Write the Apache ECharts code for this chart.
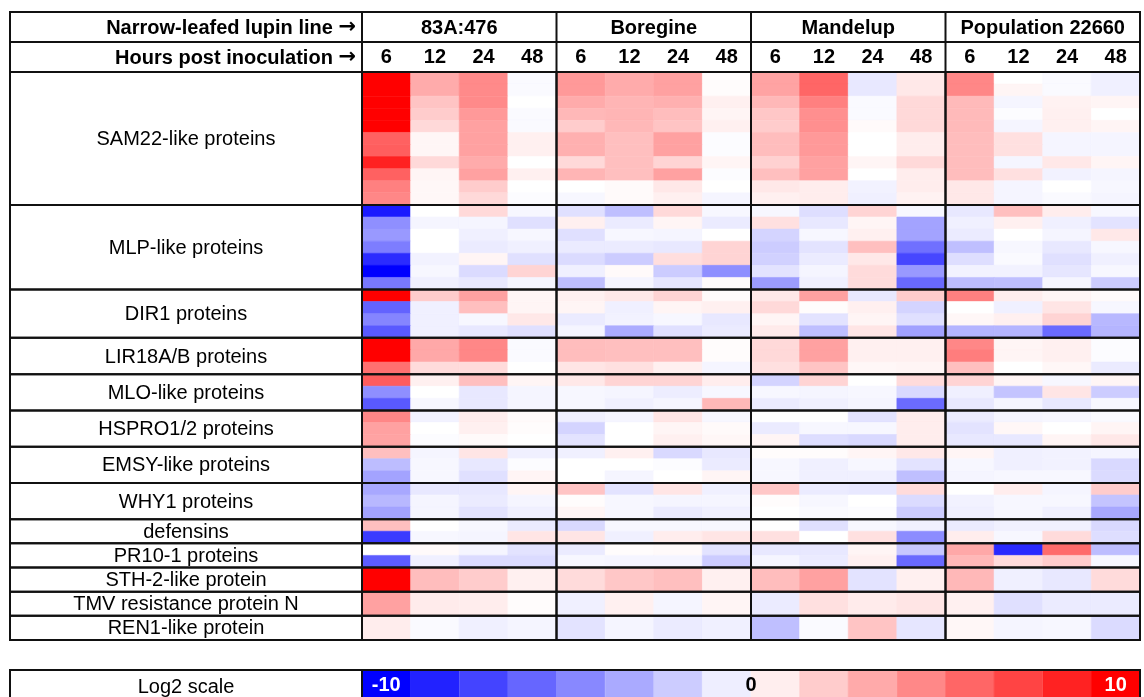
<!DOCTYPE html>
<html>
<head>
<meta charset="utf-8">
<script src="https://cdn.jsdelivr.net/npm/echarts@6/dist/echarts.min.js"></script>
<style>
  html, body { margin: 0; padding: 0; background: #fff; }
  #chart { width: 1144px; height: 697px; }
</style>
</head>
<body>
<div id="chart"></div>
<script>
const lines = ['83A:476', 'Boregine', 'Mandelup', 'Population 22660'];
const hours = ['6', '12', '24', '48'];
const geneGroups = [
  'SAM22-like proteins', 'MLP-like proteins', 'DIR1 proteins', 'LIR18A/B proteins',
  'MLO-like proteins', 'HSPRO1/2 proteins', 'EMSY-like proteins', 'WHY1 proteins',
  'defensins', 'PR10-1 proteins', 'STH-2-like protein', 'TMV resistance protein N', 'REN1-like protein'
];
// table rows taken by each group, and genes in it
const groupSlots = [11, 7, 4, 3, 3, 3, 3, 3, 2, 2, 2, 2, 2];
const groupGenes = [11, 7, 4, 3, 3, 3, 3, 3, 2, 2, 1, 1, 1];

// log2 fold change, one row per gene: [6, 12, 24, 48] hpi
const line83A = [
  [10, 3.3, 4.6, -0.2], [10, 3.3, 4.6, -0.2], [10, 2.3, 4.6, 0], [10, 2.0, 4.0, -0.2],
  [10, 1.5, 3.7, -0.2], [6.2, 0.35, 3.7, 0.6], [6.3, 0.35, 3.7, 0.6], [8.7, 1.5, 3.3, 0],
  [6.2, 0.4, 3.7, 0.6], [5, 0.3, 2, 0], [4.7, 0.3, 1.5, -0.1],
  [-9, 0, 1.5, -0.3], [-4.4, -0.4, -0.4, -1.2], [-4.0, 0, -0.6, -0.3], [-5.1, 0, -0.8, -0.6],
  [-8.3, -0.5, 0.4, -1.2], [-10, -0.3, -1.4, 1.7], [-5.3, -0.6, -0.9, -0.4],
  [10, 2, 3.7, 0.4], [-6.1, -0.6, 2.5, 0.4], [-4.8, -0.6, -0.3, 0.9], [-6.5, -0.6, -0.9, -1.2],
  [10, 3.4, 4.7, -0.2], [10, 3.4, 4.7, -0.2], [5.6, 1.4, 1.4, 0],
  [6.4, 0.6, 2.5, 0.4], [-4.4, 0, -0.9, -0.4], [-6.5, -0.3, -0.9, -0.4],
  [4.7, -0.5, 0.7, 0.2], [3.7, 0, 0.6, 0.1], [3.6, -0.1, 0.2, 0],
  [2.5, -0.4, 1, -0.6], [-2.6, -0.3, -0.9, -0.1], [-3.6, -0.3, -1.2, 0.4],
  [-3.4, -0.9, -0.9, 0.4], [-2.8, -0.4, -0.8, -0.4], [-3.6, -0.4, -1.1, -0.6],
  [2.5, 0, -0.3, -0.8], [-7.7, -0.3, -0.4, 1],
  [0, 0.2, -0.4, -1.1], [-6.4, -0.6, -1.4, -1.4],
  [10, 2.6, 2, 0.6],
  [3.7, 0.8, 0.7, 0.1],
  [0.7, -0.2, -0.6, -0.4]
];
const boregine = [
  [4.0, 3.3, 3.7, 0.1], [4.0, 3.3, 3.7, 0.1], [3.3, 2.9, 3.1, 0.6], [2.8, 2.9, 2.6, 0.4],
  [2.0, 2.8, 2.3, 0.6], [3.1, 2.5, 3.7, -0.1], [3.1, 2.5, 3.7, -0.1], [1.5, 2.5, 1.7, 0.4],
  [2.9, 2.5, 3.7, -0.1], [0, 0.2, 0.9, 0], [-0.3, 0.2, 0.6, -0.4],
  [-1.2, -2.5, 1.5, -0.3], [0.6, -0.8, 0.4, -0.8], [-1.2, -0.3, -0.4, 0], [-0.8, -0.8, -0.9, 1.7],
  [-1.4, -2, 1.3, 1.7], [-0.6, 0.2, -2, -4.4], [-2.5, -0.4, -1, 0.2],
  [0.6, 0.9, 1.7, 0.2], [0.4, -0.6, 0.4, 0.6], [-0.8, -0.5, -0.3, -0.9], [-0.4, -3.3, -1.2, -0.8],
  [2.6, 2.5, 2.5, 0.1], [2.6, 2.5, 2.5, 0.1], [1, 1.2, 0.6, -0.4],
  [0.9, 1.7, 1.7, 0.7], [-0.3, -0.4, -0.7, -0.3], [-0.3, -0.6, -0.4, 2.8],
  [-0.6, -0.4, 1, -0.3], [-1.7, 0, 0.4, 0.2], [-1.1, 0, 0.6, 0.3],
  [-0.6, 0.6, -1.5, -0.9], [0, 0, -0.1, -0.8], [0, -0.4, 0, 0.4],
  [2.3, -1.1, 1, -0.6], [0.1, -0.3, -0.4, -0.4], [0.4, -0.3, -0.8, -0.6],
  [-1.5, -0.3, -0.3, -0.3], [1, -0.6, 0.7, 1],
  [-0.8, 0.1, 0.2, -1.1], [-0.3, -0.4, -0.4, -2],
  [1.4, 2.2, 2.5, 0.6],
  [-0.6, 0.6, -0.4, 0.4],
  [-1.1, -0.4, -0.8, -0.6]
];
const mandelup = [
  [3.6, 6, -0.9, 0.9], [3.6, 6, -0.9, 0.9], [2.8, 5, -0.2, 1.5], [2.2, 4.4, -0.2, 1.5],
  [2, 4.4, 0.2, 1.5], [2.6, 4.0, 0, 0.7], [2.6, 4.0, 0, 0.7], [1.8, 3.7, 0.4, 1.5],
  [2.5, 3.7, 0, 0.7], [0.9, 0.7, -0.5, 0.7], [0.6, 0.7, -0.6, 0.5],
  [-0.3, -1.3, 1.7, -0.3], [1.2, -0.9, 0.4, -3.6], [-1.7, -0.3, 0.6, -3.6], [-2, -1.1, 2.5, -5.6],
  [-1.8, -0.8, 0.9, -7.2], [-1.1, -0.4, 1.4, -4.0], [-3.9, -0.6, 1.4, -5.9],
  [0.9, 3.7, -0.9, 2], [1.5, 0.1, 0.6, -1.7], [0.4, -1.1, 0.4, -1.2], [0.8, -2.5, 1, -3.7],
  [1.5, 3.7, 0.6, 0.6], [1.5, 3.7, 0.6, 0.6], [1.2, 2.3, 0.3, 0.4],
  [-1.7, 1.7, 0, 1.4], [-0.3, -0.4, -0.3, -1.5], [-0.8, -0.6, -0.4, -5.8],
  [0, 0, -1.1, 0.7], [-0.8, -0.3, -0.3, 0.7], [0.4, -1.3, -1.5, 0.7],
  [0.1, 0.1, 0.4, 0.9], [-0.3, -0.6, -0.3, -1.1], [-0.3, -0.6, -0.6, -2.5],
  [2.2, -0.8, -0.9, 1.4], [0.1, -0.3, 0, -1.4], [0, -0.2, -0.1, -2],
  [0, -1.2, -0.3, -0.6], [1.2, 0, 1.2, -4.5],
  [-0.9, -0.9, 0.4, -2.2], [-0.4, -0.8, 0.6, -5.9],
  [2.6, 3.7, -1.1, 0.6],
  [-0.8, 1.2, 0.8, 1],
  [-2.5, -0.2, 2.3, -1]
];
const pop22660 = [
  [4.7, 0, -0.2, -0.6], [4.7, 0.4, -0.2, -0.6], [2.7, -0.4, 0.5, 0.4], [2.7, -0.1, 0.6, 0],
  [2.7, -0.4, 0.6, 0.4], [2.6, 1.2, -0.4, -0.4], [2.6, 1.2, -0.4, -0.4], [2.6, -0.4, 0.9, 0.4],
  [2.6, 1.2, -0.5, -0.4], [0.9, -0.4, 0, -0.3], [0.9, -0.4, -0.2, -0.4],
  [-0.9, 2.5, 0.7, -0.3], [-0.6, 0.6, -0.6, -1.1], [-0.8, 0, -0.4, 0.9], [-2.5, -0.3, -0.9, -0.3],
  [-1.3, -0.2, -1.2, -0.6], [-0.5, -0.5, -1, -0.3], [-2.6, -2.5, -0.4, -2],
  [5, 0.7, 0.4, 0.2], [0, -0.6, 1, -0.3], [0.3, 0.6, 1.7, -2.8], [-2.9, -2.9, -5.8, -2.9],
  [4.7, 0.4, 0.6, -0.1], [5.1, 0.4, 0.6, -0.1], [2.5, 0, 0.3, -0.8],
  [1.7, 0.4, -0.3, 0.4], [-0.6, -2.3, 1, -2], [-0.9, -0.4, -0.9, -0.3],
  [-0.8, -0.4, -0.3, -0.2], [-1.1, 0.3, 0, 0.4], [-0.9, -0.9, 0.4, 0.9],
  [0.4, -0.6, -0.5, -0.4], [-0.3, -0.6, -0.5, -1.5], [-0.4, -0.3, -0.3, -1.4],
  [0, 0.7, -0.4, 2], [-0.5, -0.3, -0.3, -2.3], [-0.6, -0.3, -0.6, -3.4],
  [-0.8, -0.6, -0.6, -1.5], [0.7, -0.3, 1.4, -1.3],
  [3.4, -8.4, 5.8, -2.6], [2.8, 1.4, 2, -0.3],
  [2.8, -0.6, -0.9, 1.4],
  [0.6, -1.2, -0.8, -0.8],
  [0.3, -0.4, -0.3, -1.4]
];
const scaleValues = [-10, -8.67, -7.33, -6, -4.67, -3.33, -2, -0.67, 0.67, 2, 3.33, 4.67, 6, 7.33, 8.67, 10];
const scaleTicks = [-10, 0, 10];

// layout
const TABLE_LEFT = 10, TABLE_RIGHT = 1140, HEAT_LEFT = 362;
const HEAD_TOP = 12, HEAD_ROW = 30, HEAT_TOP = 72, HEAT_BOTTOM = 640;
const SCALE_TOP = 670;
const FONT = 'Liberation Sans, Arial, sans-serif';
const LINE = '#111';

const lineData = [line83A, boregine, mandelup, pop22660];
const totalSlots = groupSlots.reduce((a, b) => a + b, 0);

// build cells [column, slotStart, slotEnd, value]
const cells = [];
const groupSpans = [];
let slot = 0, gene = 0;
groupSlots.forEach((n, g) => {
  const h = n / groupGenes[g];
  groupSpans.push([slot, slot + n]);
  for (let k = 0; k < groupGenes[g]; k++) {
    const y0 = slot + k * h;
    lineData.forEach((rows, li) => {
      rows[gene].forEach((v, hi) => cells.push([li * 4 + hi, y0, y0 + h, v]));
    });
    gene++;
  }
  slot += n;
});

const chart = echarts.init(document.getElementById('chart'));

const renderCell = (params, api) => {
  const c = api.coord([api.value(0), api.value(1)]);
  const w = api.size([1, 0])[0];
  const y1 = api.coord([api.value(0), api.value(2)])[1];
  const color = api.visual('color');
  return {
    type: 'rect',
    shape: { x: c[0] - w / 2, y: c[1], width: w, height: y1 - c[1] },
    style: { fill: color, stroke: color, lineWidth: 0.6 }
  };
};

const renderFrame = (params, api) => {
  const cs = params.coordSys;
  const y0 = api.coord([0, api.value(0)])[1];
  const y1 = api.coord([0, api.value(1)])[1];
  const children = [{
    type: 'rect',
    shape: { x: TABLE_LEFT, y: y0, width: cs.x - TABLE_LEFT, height: y1 - y0 },
    style: { fill: null, stroke: LINE, lineWidth: 2 }
  }];
  for (let i = 0; i < 4; i++) {
    children.push({
      type: 'rect',
      shape: { x: cs.x + i * cs.width / 4, y: y0, width: cs.width / 4, height: y1 - y0 },
      style: { fill: null, stroke: LINE, lineWidth: 2 }
    });
  }
  children.push({
    type: 'text',
    style: {
      text: geneGroups[params.dataIndex], x: (TABLE_LEFT + cs.x) / 2, y: (y0 + y1) / 2 + 1,
      align: 'center', verticalAlign: 'middle', font: '20px ' + FONT, fill: '#000'
    }
  });
  return { type: 'group', children };
};

const step = scaleValues[1] - scaleValues[0];
const renderScale = (params, api) => {
  const a = api.coord([api.value(0) - step / 2, 0]);
  const b = api.coord([api.value(0) + step / 2, 1]);
  const color = api.visual('color');
  return {
    type: 'rect',
    shape: { x: a[0], y: b[1], width: b[0] - a[0], height: a[1] - b[1] },
    style: { fill: color, stroke: color, lineWidth: 0.6 }
  };
};
const renderTick = (params, api) => {
  const v = api.value(0);
  const p = api.coord([v, 0.5]);
  return {
    type: 'text',
    style: {
      text: String(v), x: p[0], y: p[1] + 2, align: 'center', verticalAlign: 'middle',
      font: 'bold 20px ' + FONT, fill: Math.abs(v) > 5 ? '#fff' : '#000'
    }
  };
};

const headerLines = [
  { type: 'rect', shape: { x: TABLE_LEFT, y: HEAD_TOP, width: TABLE_RIGHT - TABLE_LEFT, height: HEAT_TOP - HEAD_TOP } },
  { type: 'line', shape: { x1: TABLE_LEFT, y1: HEAD_TOP + HEAD_ROW, x2: TABLE_RIGHT, y2: HEAD_TOP + HEAD_ROW } }
];
for (let i = 0; i < 4; i++) {
  const x = HEAT_LEFT + i * (TABLE_RIGHT - HEAT_LEFT) / 4;
  headerLines.push({ type: 'line', shape: { x1: x, y1: HEAD_TOP, x2: x, y2: HEAT_TOP } });
}
headerLines.push(
  { type: 'rect', shape: { x: TABLE_LEFT, y: SCALE_TOP, width: TABLE_RIGHT - TABLE_LEFT, height: 60 } },
  { type: 'line', shape: { x1: HEAT_LEFT, y1: SCALE_TOP, x2: HEAT_LEFT, y2: SCALE_TOP + 60 } }
);
headerLines.forEach(e => { e.style = { fill: null, stroke: LINE, lineWidth: 2 }; e.z = 10; });

const arrowRich = {
  t: { font: 'bold 20px ' + FONT, fill: '#000' },
  arr: { font: 'bold 21px DejaVu Sans, sans-serif', fill: '#000' }
};
const headLabel = (text, y) => ({
  type: 'text', z: 10, style: {
    text: '{t|' + text + ' }{arr|\u2192}', rich: arrowRich, x: HEAT_LEFT - 6, y,
    align: 'right', verticalAlign: 'middle'
  }
});

const option = {
  animation: false,
  backgroundColor: '#fff',
  grid: [
    { left: HEAT_LEFT, right: 1144 - TABLE_RIGHT, top: HEAT_TOP, height: HEAT_BOTTOM - HEAT_TOP },
    { left: HEAT_LEFT, right: 1144 - TABLE_RIGHT, top: SCALE_TOP, height: 30 }
  ],
  xAxis: [
    {
      type: 'category', gridIndex: 0, position: 'top', data: lines.flatMap(() => hours),
      axisLine: { show: false }, axisTick: { show: false }, splitLine: { show: false },
      axisLabel: { interval: 0, margin: 15, verticalAlign: 'middle', color: '#000', fontWeight: 'bold', fontSize: 20, fontFamily: FONT }
    },
    {
      type: 'category', gridIndex: 0, position: 'top', offset: HEAD_ROW, data: lines,
      axisLine: { show: false }, axisTick: { show: false }, splitLine: { show: false },
      axisLabel: { interval: 0, margin: 14, verticalAlign: 'middle', color: '#000', fontWeight: 'bold', fontSize: 20, fontFamily: FONT }
    },
    { type: 'value', gridIndex: 1, min: -10 - step / 2, max: 10 + step / 2, show: false }
  ],
  yAxis: [
    { type: 'value', gridIndex: 0, min: 0, max: totalSlots, inverse: true, show: false },
    { type: 'value', gridIndex: 1, min: 0, max: 1, show: false }
  ],
  visualMap: {
    show: false, type: 'continuous', min: -10, max: 10, dimension: 3, seriesIndex: [0, 2],
    inRange: { color: ['#0000ff', '#ffffff', '#ff0000'] }
  },
  graphic: [
    ...headerLines,
    headLabel('Narrow-leafed lupin line', HEAD_TOP + HEAD_ROW / 2 + 1),
    headLabel('Hours post inoculation', HEAD_TOP + HEAD_ROW * 1.5 + 1),
    {
      type: 'text', z: 10, style: {
        text: 'Log2 scale', x: (TABLE_LEFT + HEAT_LEFT) / 2, y: SCALE_TOP + 17,
        align: 'center', verticalAlign: 'middle', font: '20px ' + FONT, fill: '#000'
      }
    }
  ],
  series: [
    {
      name: 'cells', type: 'custom', xAxisIndex: 0, yAxisIndex: 0,
      renderItem: renderCell, encode: { x: 0, y: [1, 2] }, data: cells
    },
    {
      name: 'frame', type: 'custom', xAxisIndex: 0, yAxisIndex: 0, z: 5,
      renderItem: renderFrame, data: groupSpans
    },
    {
      name: 'scale', type: 'custom', xAxisIndex: 2, yAxisIndex: 1,
      renderItem: renderScale, data: scaleValues.map(v => [v, 0, 1, v])
    },
    {
      name: 'scaleTicks', type: 'custom', xAxisIndex: 2, yAxisIndex: 1, z: 6,
      renderItem: renderTick, data: scaleTicks.map(v => [v])
    }
  ]
};
chart.setOption(option);
</script>
</body>
</html>
